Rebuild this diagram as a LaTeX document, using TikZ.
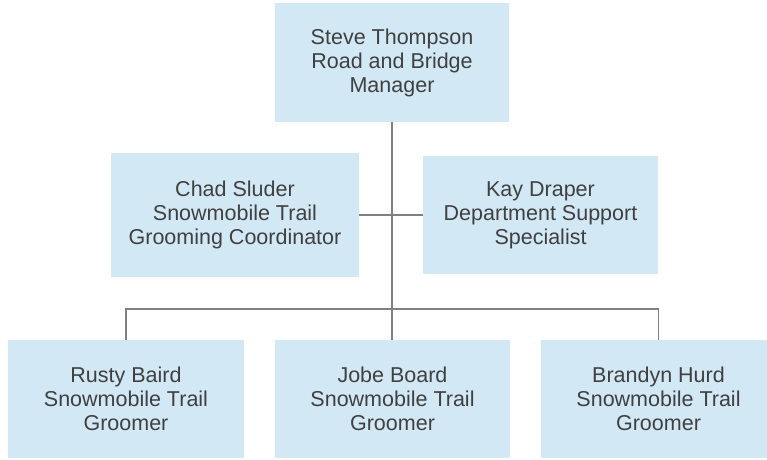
\documentclass[tikz,border=0pt]{standalone}
\usepackage{fontspec}
\setmainfont{Liberation Sans}
\definecolor{boxfill}{RGB}{210,232,245}
\definecolor{txt}{RGB}{64,64,64}
\definecolor{linec}{RGB}{128,128,128}
\begin{document}
\begin{tikzpicture}[x=1pt,y=-1pt,
  orgbox/.style={fill=boxfill, draw=none, inner sep=0pt, align=center,
    text=txt, font=\fontsize{21.5}{24}\selectfont},
  conn/.style={draw=linec, line width=1.5pt}]
\useasboundingbox (0,0) rectangle (767,459);
\node[orgbox, minimum width=234pt, minimum height=119pt] (top) at (392,62.5) {Steve Thompson\\Road and Bridge\\Manager};
\node[orgbox, minimum width=248pt, minimum height=124pt] (chad) at (235,215) {Chad Sluder\\Snowmobile Trail\\Grooming Coordinator};
\node[orgbox, minimum width=235pt, minimum height=118pt] (kay) at (540.5,215) {Kay Draper\\Department Support\\Specialist};
\node[orgbox, minimum width=236pt, minimum height=118pt] (rusty) at (126,399) {Rusty Baird\\Snowmobile Trail\\Groomer};
\node[orgbox, minimum width=235pt, minimum height=118pt] (jobe) at (392.5,399) {Jobe Board\\Snowmobile Trail\\Groomer};
\node[orgbox, minimum width=235pt, minimum height=118pt] (brandyn) at (658.5,399) {Brandyn Hurd\\Snowmobile Trail\\Groomer};
\coordinate (barL) at (126,309);
\coordinate (barR) at (658.5,309);
\draw[conn] (top.south) -- (top.south |- jobe.north);
\draw[conn] (chad.east) -- (kay.west);
\draw[conn] (rusty.north) -- (barL) -- (barR) -- (brandyn.north);
\end{tikzpicture}
\end{document}
